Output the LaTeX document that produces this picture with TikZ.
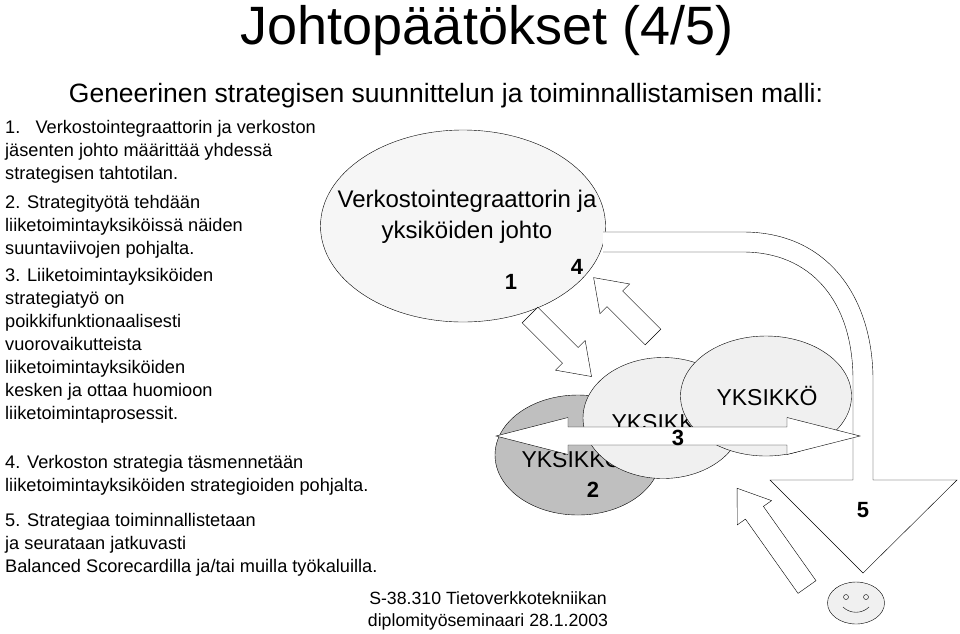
\documentclass[tikz,border=0pt]{standalone}
\usepackage{fontspec}
\setmainfont{Liberation Sans}
\usetikzlibrary{shapes.geometric}
\tikzset{
  ell/.style={draw,ellipse,inner sep=0pt},
  txt/.style={align=left,anchor=north west,font=\fontsize{18.2}{23}\selectfont,inner sep=0pt},
  num/.style={font=\fontsize{22}{22}\selectfont\bfseries,inner sep=0pt},
  unit/.style={font=\fontsize{23}{23}\selectfont,inner sep=0pt}
}
% hollow block arrow: tail, angle, length
\newcommand\blockarrow[3]{%
  \draw[fill=white,shift={(#1)},rotate=#2] (0,-11) -- (#3-30,-11) -- (#3-30,-21) -- (#3,0)
    -- (#3-30,21) -- (#3-30,11) -- (0,11) -- cycle;}
\begin{document}
\begin{tikzpicture}[x=1pt,y=-1pt]
\useasboundingbox (0,0) rectangle (960,633);
% title
\node (title) at (487,31) {\fontsize{54}{54}\selectfont Johtopäätökset (4/5)};
\node (sub) at (446,96) {\fontsize{26.5}{26.5}\selectfont Geneerinen strategisen suunnittelun ja toiminnallistamisen malli:};
% list
\node[txt] (p1) at (5,120) {1.\ \ \ Verkostointegraattorin ja verkoston\\jäsenten johto määrittää yhdessä\\strategisen tahtotilan.};
\node[txt] (p2) at (5,195) {2. Strategityötä tehdään\\liiketoimintayksiköissä näiden\\suuntaviivojen pohjalta.};
\node[txt] (p3) at (5,268) {3. Liiketoimintayksiköiden\\strategiatyö on\\poikkifunktionaalisesti\\vuorovaikutteista\\liiketoimintayksiköiden\\kesken ja ottaa huomioon\\liiketoimintaprosessit.};
\node[txt] (p4) at (5,455) {4. Verkoston strategia täsmennetään\\liiketoimintayksiköiden strategioiden pohjalta.};
\node[txt] (p5) at (5,513) {5. Strategiaa toiminnallistetaan\\ja seurataan jatkuvasti\\Balanced Scorecardilla ja/tai muilla työkaluilla.};
% top ellipse
\node[ell,fill=gray!7,minimum width=285,minimum height=192] (top) at (463,226) {};
\node[align=center,font=\fontsize{24}{31}\selectfont] (toptxt) at (467,217) {Verkostointegraattorin ja\\yksiköiden johto};
% big curved arrow
\draw[fill=white] (603,232) -- (743,232) .. controls (830,232) and (873,300) .. (873,380)
  -- (873,480) -- (957,480) -- (863,573) -- (770,480) -- (853,480) -- (853,380)
  .. controls (853,300) and (810,252) .. (743,252) -- (603,252);
\node[num] (n5) at (863,510) {5};
% arrows between top and units
\blockarrow{530,315}{-45}{87}
\blockarrow{653,337}{135}{84}
\node[num] (n1) at (511,282) {1};
\node[num] (n4) at (577,267) {4};
% units
\node[ell,fill=gray!50,minimum width=166,minimum height=120] (e2) at (578,455) {};
\node[unit] (e2t) at (572,458) {YKSIKKÖ};
\node[ell,fill=gray!12,minimum width=160,minimum height=121] (e3) at (663,418) {};
\node[unit] (e3t) at (662,421) {YKSIKKÖ};
\node[ell,fill=gray!12,minimum width=171,minimum height=120] (e4) at (766,396) {};
\node[unit] (e4t) at (767,396) {YKSIKKÖ};
\draw[fill=white] (496,436) -- (568,417.5) -- (568,427) -- (787,427) -- (787,417.5) -- (860,436)
  -- (787,454.5) -- (787,445) -- (568,445) -- (568,454.5) -- cycle;
\node[num] (n3) at (678,438) {3};
\node[num] (n2) at (593,490) {2};
% smiley
\blockarrow{807,587}{125.3}{121}
\node[ell,fill=gray!12,minimum width=57,minimum height=42] (face) at (856,603) {};
\draw (846,597) circle (2.5) (866,597) circle (2.5);
\draw (843,607) .. controls (850,614) and (862,614) .. (869,607);
% footer
\node[align=center,font=\fontsize{17.7}{22}\selectfont] (foot) at (488,611) {S-38.310 Tietoverkkotekniikan\\diplomityöseminaari 28.1.2003};
\end{tikzpicture}
\end{document}
